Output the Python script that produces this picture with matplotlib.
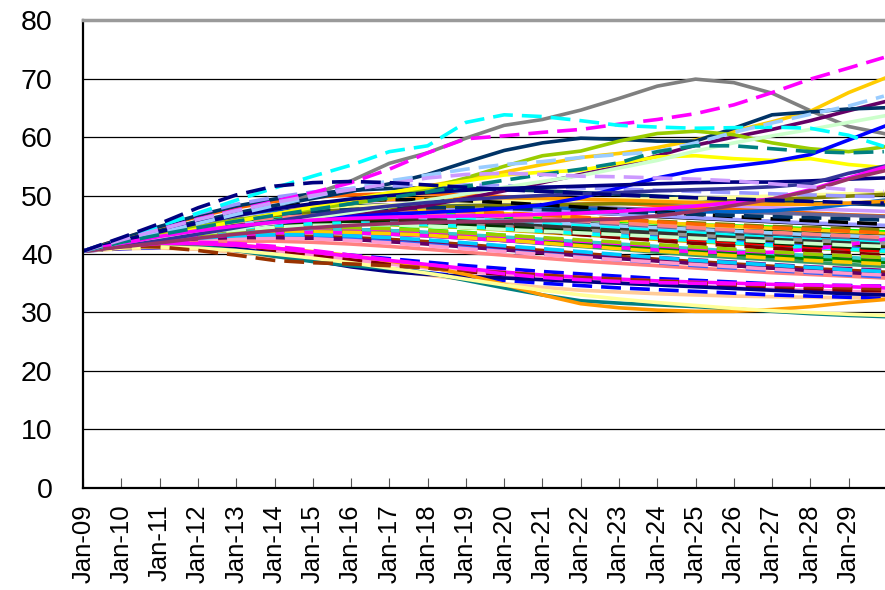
import matplotlib
matplotlib.use("Agg")
import matplotlib.pyplot as plt

plt.rcParams['font.family'] = ['Liberation Sans', 'DejaVu Sans']

# yearly samples, Jan-09 .. Jan-29 plus the last month (Dec-29)
YEARS = list(range(2009, 2030)) + [2029.92]
TICK_YEARS = list(range(2009, 2030))
TICK_LABELS = ["Jan-09", "Jan-10", "Jan-11", "Jan-12", "Jan-13", "Jan-14", "Jan-15",
               "Jan-16", "Jan-17", "Jan-18", "Jan-19", "Jan-20", "Jan-21", "Jan-22",
               "Jan-23", "Jan-24", "Jan-25", "Jan-26", "Jan-27", "Jan-28", "Jan-29"]

# main bundle, solid lines
bulk_solid_colors = ["#FF0000", "#00FF00", "#0000FF", "#000000", "#800000", "#008000",
                     "#800080", "#808000", "#00CCFF", "#CC99FF", "#FF6600", "#FF9900",
                     "#333300", "#339966", "#3366FF", "#33CCCC", "#99CC00", "#FFCC00",
                     "#666699", "#969696", "#003366", "#003300", "#993300", "#660066",
                     "#0066CC", "#333333", "#FF8080", "#00FFFF", "#9999FF", "#FF99CC",
                     "#FFCC99", "#99CCFF", "#FF00FF", "#FFFF99", "#808000", "#FF9900"]
bulk_solid = [
    [40.5, 41.8, 43.0, 44.0, 44.8, 45.3, 45.6, 45.8, 45.7, 45.5, 45.2, 44.8, 44.5, 44.1, 43.8, 43.5, 43.2, 43.0, 42.8, 42.5, 42.3, 42.1],
    [40.5, 42.0, 43.4, 44.6, 45.5, 46.2, 46.7, 47.0, 47.1, 47.0, 46.8, 46.5, 46.3, 46.0, 45.6, 45.3, 45.0, 44.8, 44.6, 44.3, 44.0, 43.8],
    [40.5, 41.5, 42.4, 43.2, 43.8, 44.2, 44.3, 44.2, 44.0, 43.6, 43.2, 42.8, 42.3, 41.9, 41.5, 41.0, 40.6, 40.2, 39.8, 39.4, 39.0, 38.7],
    [40.5, 42.2, 43.8, 45.2, 46.3, 47.2, 47.8, 48.2, 48.4, 48.3, 48.1, 47.8, 47.5, 47.1, 46.8, 46.4, 46.1, 45.8, 45.5, 45.2, 44.9, 44.7],
    [40.5, 41.3, 42.0, 42.5, 42.8, 42.9, 42.8, 42.6, 42.3, 41.9, 41.4, 40.9, 40.4, 39.9, 39.4, 38.9, 38.4, 38.0, 37.6, 37.2, 36.8, 36.5],
    [40.5, 41.4, 42.2, 42.9, 43.3, 43.6, 43.7, 43.6, 43.4, 43.1, 42.7, 42.3, 41.9, 41.4, 41.0, 40.6, 40.2, 39.8, 39.5, 39.2, 38.9, 38.6],
    [40.5, 41.2, 41.8, 42.3, 42.6, 42.7, 42.7, 42.5, 42.2, 41.8, 41.3, 40.8, 40.3, 39.8, 39.4, 38.9, 38.5, 38.1, 37.7, 37.3, 37.0, 36.7],
    [40.5, 41.9, 43.2, 44.2, 45.0, 45.6, 46.0, 46.2, 46.3, 46.1, 45.9, 45.6, 45.2, 44.9, 44.5, 44.2, 43.9, 43.6, 43.3, 43.0, 42.7, 42.5],
    [40.5, 42.0, 43.5, 44.8, 45.8, 46.5, 46.9, 47.1, 47.0, 46.8, 46.4, 45.9, 45.5, 45.0, 44.6, 44.2, 43.8, 43.5, 43.2, 42.9, 42.6, 42.3],
    [40.5, 42.3, 44.0, 45.5, 46.7, 47.7, 48.4, 48.9, 49.2, 49.4, 49.4, 49.3, 49.1, 48.9, 48.7, 48.5, 48.3, 48.1, 47.9, 47.7, 47.5, 47.3],
    [40.5, 42.6, 44.6, 46.4, 47.9, 49.0, 49.7, 50.1, 50.3, 50.3, 50.1, 49.8, 49.5, 49.1, 48.7, 48.3, 47.9, 47.6, 47.3, 47.0, 46.7, 46.5],
    [40.5, 41.6, 42.7, 43.6, 44.3, 44.8, 45.1, 45.2, 45.1, 44.9, 44.5, 44.1, 43.7, 43.3, 42.9, 42.5, 42.1, 41.8, 41.5, 41.2, 40.9, 40.6],
    [40.5, 41.7, 42.8, 43.8, 44.6, 45.2, 45.6, 45.8, 45.8, 45.6, 45.3, 45.0, 44.6, 44.2, 43.8, 43.4, 43.0, 42.6, 42.2, 41.9, 41.6, 41.3],
    [40.5, 41.5, 42.4, 43.1, 43.6, 43.9, 44.0, 43.9, 43.6, 43.2, 42.8, 42.3, 41.8, 41.3, 40.8, 40.3, 39.8, 39.4, 39.0, 38.6, 38.2, 37.9],
    [40.5, 41.8, 43.0, 44.0, 44.7, 45.2, 45.5, 45.6, 45.5, 45.2, 44.9, 44.5, 44.1, 43.7, 43.3, 42.9, 42.5, 42.1, 41.7, 41.3, 41.0, 40.7],
    [40.5, 41.4, 42.3, 43.0, 43.6, 44.0, 44.2, 44.2, 44.0, 43.7, 43.3, 42.9, 42.5, 42.1, 41.7, 41.3, 40.9, 40.5, 40.1, 39.7, 39.4, 39.1],
    [40.5, 41.6, 42.6, 43.5, 44.2, 44.7, 45.0, 45.1, 45.0, 44.8, 44.5, 44.2, 43.8, 43.4, 43.0, 42.6, 42.2, 41.8, 41.4, 41.0, 40.7, 40.4],
    [40.5, 42.1, 43.6, 44.9, 45.9, 46.6, 47.1, 47.4, 47.5, 47.4, 47.2, 46.9, 46.6, 46.2, 45.8, 45.4, 45.0, 44.7, 44.4, 44.1, 43.8, 43.5],
    [40.5, 42.0, 43.5, 44.8, 45.9, 46.8, 47.5, 48.0, 48.3, 48.5, 48.5, 48.4, 48.2, 48.0, 47.8, 47.6, 47.4, 47.2, 47.0, 46.8, 46.6, 46.4],
    [40.5, 41.6, 42.7, 43.6, 44.3, 44.8, 45.1, 45.3, 45.3, 45.2, 45.0, 44.7, 44.4, 44.1, 43.8, 43.5, 43.2, 42.9, 42.6, 42.3, 42.0, 41.8],
    [40.5, 42.6, 44.7, 46.6, 48.2, 49.4, 50.3, 50.9, 51.2, 51.3, 51.2, 51.0, 50.8, 50.5, 50.2, 49.9, 49.6, 49.3, 49.0, 48.8, 48.6, 48.4],
    [40.5, 41.9, 43.2, 44.3, 45.2, 45.8, 46.2, 46.4, 46.4, 46.3, 46.1, 45.8, 45.5, 45.2, 44.9, 44.6, 44.3, 44.0, 43.8, 43.5, 43.2, 43.0],
    [40.5, 41.3, 42.0, 42.5, 42.8, 43.0, 43.0, 42.8, 42.5, 42.1, 41.6, 41.1, 40.6, 40.1, 39.6, 39.1, 38.7, 38.3, 37.9, 37.5, 37.2, 36.9],
    [40.5, 41.2, 41.9, 42.4, 42.7, 42.8, 42.7, 42.5, 42.1, 41.7, 41.2, 40.7, 40.2, 39.7, 39.2, 38.8, 38.4, 38.0, 37.6, 37.2, 36.8, 36.5],
    [40.5, 42.2, 43.8, 45.2, 46.3, 47.1, 47.7, 48.1, 48.3, 48.4, 48.3, 48.1, 47.9, 47.7, 47.5, 47.3, 47.2, 47.2, 47.4, 47.8, 48.5, 49.2],
    [40.5, 41.7, 42.9, 43.9, 44.7, 45.3, 45.7, 45.9, 45.9, 45.8, 45.6, 45.3, 45.0, 44.7, 44.4, 44.1, 43.8, 43.5, 43.3, 43.1, 42.9, 42.7],
    [40.5, 41.1, 41.6, 42.0, 42.2, 42.2, 42.0, 41.7, 41.3, 40.8, 40.3, 39.8, 39.3, 38.8, 38.4, 38.0, 37.6, 37.2, 36.8, 36.5, 36.2, 35.9],
    [40.5, 41.7, 42.8, 43.7, 44.4, 44.9, 45.2, 45.3, 45.2, 45.0, 44.7, 44.3, 43.9, 43.5, 43.1, 42.7, 42.3, 41.9, 41.5, 41.1, 40.8, 40.5],
    [40.5, 42.1, 43.7, 45.0, 46.1, 46.9, 47.5, 47.8, 48.0, 48.0, 47.9, 47.7, 47.4, 47.1, 46.8, 46.5, 46.2, 45.9, 45.6, 45.3, 45.1, 44.9],
    [40.5, 41.0, 41.3, 41.3, 41.0, 40.4, 39.7, 39.0, 38.3, 37.6, 37.0, 36.4, 35.9, 35.5, 35.1, 34.8, 34.5, 34.2, 34.0, 33.8, 33.6, 33.5],
    [40.5, 40.9, 41.0, 40.8, 40.3, 39.6, 38.8, 38.0, 37.2, 36.4, 35.6, 34.9, 34.3, 33.8, 33.5, 33.2, 33.0, 32.8, 32.7, 32.6, 32.5, 32.5],
    [40.5, 41.9, 43.2, 44.3, 45.1, 45.7, 46.1, 46.3, 46.3, 46.2, 46.0, 45.7, 45.4, 45.1, 44.8, 44.5, 44.2, 43.9, 43.6, 43.3, 43.1, 42.9],
    [40.5, 41.4, 42.2, 42.8, 43.3, 43.6, 43.7, 43.6, 43.4, 43.1, 42.7, 42.3, 41.9, 41.5, 41.1, 40.7, 40.4, 40.2, 40.3, 40.8, 41.6, 42.5],
    [40.5, 42.0, 43.5, 44.8, 45.9, 46.8, 47.5, 48.0, 48.4, 48.7, 48.9, 49.0, 49.1, 49.2, 49.3, 49.4, 49.5, 49.7, 49.9, 50.1, 50.3, 50.5],
    [40.5, 42.0, 43.5, 44.8, 45.8, 46.6, 47.2, 47.6, 47.9, 48.1, 48.2, 48.3, 48.4, 48.5, 48.6, 48.7, 48.8, 49.0, 49.3, 49.6, 49.9, 50.2],
    [40.5, 42.3, 44.0, 45.5, 46.8, 47.8, 48.5, 49.0, 49.3, 49.5, 49.6, 49.6, 49.5, 49.4, 49.2, 49.0, 48.8, 48.6, 48.5, 48.5, 48.7, 49.0],
]

# main bundle, dashed lines
bulk_dashed_colors = ["#FF0000", "#00FF00", "#0000FF", "#000000", "#800000", "#008000",
                      "#800080", "#808000", "#FF00FF", "#FF6600", "#00FFFF", "#9999FF",
                      "#003300", "#FFCC00", "#666699", "#3366FF", "#99CC00", "#FF99CC",
                      "#003366", "#333333", "#00CCFF", "#CCFFCC", "#FF8080", "#0000FF",
                      "#800000"]
bulk_dashed = [
    [40.5, 41.9, 43.2, 44.3, 45.1, 45.7, 46.0, 46.1, 46.0, 45.7, 45.3, 44.9, 44.4, 43.9, 43.4, 42.9, 42.4, 42.0, 41.6, 41.2, 40.8, 40.5],
    [40.5, 41.6, 42.6, 43.4, 44.0, 44.4, 44.6, 44.6, 44.4, 44.1, 43.7, 43.2, 42.7, 42.2, 41.7, 41.2, 40.8, 40.4, 40.0, 39.6, 39.2, 38.9],
    [40.5, 41.2, 41.6, 41.7, 41.5, 41.0, 40.4, 39.8, 39.2, 38.6, 38.0, 37.5, 37.0, 36.6, 36.2, 35.8, 35.5, 35.2, 34.9, 34.7, 34.6, 34.5],
    [40.5, 42.3, 44.1, 45.7, 47.0, 48.0, 48.7, 49.1, 49.3, 49.3, 49.1, 48.8, 48.4, 48.0, 47.6, 47.2, 46.8, 46.4, 46.0, 45.7, 45.4, 45.1],
    [40.5, 41.8, 43.0, 44.0, 44.8, 45.3, 45.6, 45.7, 45.6, 45.3, 44.9, 44.4, 43.9, 43.3, 42.8, 42.3, 41.8, 41.4, 41.0, 40.6, 40.2, 39.8],
    [40.5, 41.5, 42.4, 43.1, 43.6, 43.9, 44.0, 43.9, 43.7, 43.3, 42.9, 42.5, 42.1, 41.7, 41.3, 40.9, 40.5, 40.1, 39.8, 39.5, 39.2, 38.9],
    [40.5, 41.3, 42.0, 42.6, 43.0, 43.2, 43.2, 43.0, 42.7, 42.3, 41.8, 41.3, 40.8, 40.3, 39.8, 39.4, 39.0, 38.6, 38.2, 37.8, 37.5, 37.2],
    [40.5, 42.0, 43.4, 44.6, 45.6, 46.3, 46.8, 47.1, 47.2, 47.2, 47.0, 46.8, 46.5, 46.2, 45.9, 45.6, 45.3, 45.0, 44.7, 44.5, 44.3, 44.1],
    [40.5, 41.6, 42.6, 43.4, 44.0, 44.3, 44.4, 44.3, 44.1, 43.8, 43.4, 43.0, 42.6, 42.2, 41.8, 41.4, 41.0, 40.6, 40.3, 40.0, 39.7, 39.4],
    [40.5, 42.1, 43.6, 44.9, 45.9, 46.6, 47.1, 47.4, 47.5, 47.5, 47.3, 47.0, 46.7, 46.3, 45.9, 45.5, 45.1, 44.8, 44.5, 44.2, 43.9, 43.6],
    [40.5, 41.9, 43.2, 44.3, 45.2, 45.8, 46.2, 46.4, 46.4, 46.3, 46.0, 45.6, 45.2, 44.8, 44.4, 44.0, 43.6, 43.2, 42.8, 42.5, 42.2, 41.9],
    [40.5, 42.7, 44.9, 46.9, 48.5, 49.7, 50.6, 51.2, 51.6, 51.8, 51.8, 51.7, 51.5, 51.3, 51.1, 50.9, 50.7, 50.5, 50.3, 50.1, 49.9, 49.8],
    [40.5, 41.7, 42.8, 43.7, 44.4, 44.9, 45.2, 45.4, 45.4, 45.3, 45.0, 44.7, 44.3, 43.9, 43.5, 43.1, 42.7, 42.3, 41.9, 41.5, 41.2, 40.9],
    [40.5, 41.4, 42.2, 42.9, 43.4, 43.7, 43.8, 43.7, 43.5, 43.2, 42.8, 42.4, 41.9, 41.4, 40.9, 40.5, 40.1, 39.7, 39.3, 38.9, 38.6, 38.3],
    [40.5, 42.1, 43.6, 44.9, 45.9, 46.6, 47.0, 47.2, 47.2, 47.0, 46.7, 46.3, 45.9, 45.5, 45.1, 44.7, 44.3, 43.9, 43.5, 43.1, 42.8, 42.5],
    [40.5, 41.3, 42.0, 42.5, 42.8, 42.9, 42.8, 42.5, 42.1, 41.6, 41.1, 40.5, 40.0, 39.5, 39.0, 38.5, 38.0, 37.6, 37.2, 36.8, 36.4, 36.1],
    [40.5, 41.5, 42.5, 43.3, 43.9, 44.3, 44.5, 44.5, 44.3, 44.0, 43.6, 43.2, 42.8, 42.4, 42.0, 41.6, 41.2, 40.8, 40.4, 40.0, 39.7, 39.4],
    [40.5, 41.2, 41.8, 42.3, 42.6, 42.7, 42.6, 42.3, 41.9, 41.4, 40.9, 40.4, 39.9, 39.4, 39.0, 38.6, 38.2, 37.8, 37.4, 37.0, 36.7, 36.4],
    [40.5, 42.0, 43.5, 44.8, 45.8, 46.6, 47.2, 47.6, 47.8, 47.9, 47.9, 47.8, 47.6, 47.4, 47.2, 47.0, 46.8, 46.6, 46.4, 46.2, 46.0, 45.8],
    [40.5, 41.8, 43.0, 44.1, 44.9, 45.5, 45.9, 46.1, 46.1, 45.9, 45.6, 45.2, 44.8, 44.4, 44.0, 43.6, 43.2, 42.8, 42.5, 42.2, 41.9, 41.6],
    [40.5, 41.3, 42.1, 42.7, 43.1, 43.3, 43.3, 43.1, 42.8, 42.4, 41.9, 41.4, 40.9, 40.4, 39.9, 39.4, 38.9, 38.5, 38.1, 37.7, 37.3, 37.0],
    [40.5, 41.6, 42.6, 43.5, 44.1, 44.6, 44.9, 45.0, 45.0, 44.8, 44.5, 44.2, 43.9, 43.6, 43.3, 43.0, 42.7, 42.4, 42.1, 41.8, 41.5, 41.3],
    [40.5, 42.0, 43.4, 44.6, 45.5, 46.2, 46.6, 46.9, 47.0, 46.9, 46.7, 46.4, 46.1, 45.7, 45.3, 44.9, 44.5, 44.1, 43.7, 43.4, 43.1, 42.8],
    [40.5, 40.9, 41.1, 41.0, 40.6, 40.0, 39.2, 38.4, 37.6, 36.8, 36.1, 35.5, 35.0, 34.6, 34.2, 33.9, 33.6, 33.3, 33.0, 32.8, 32.6, 32.4],
    [40.5, 41.0, 41.3, 41.3, 41.0, 40.4, 39.7, 39.0, 38.3, 37.6, 37.0, 36.5, 36.0, 35.6, 35.2, 34.9, 34.6, 34.3, 34.1, 33.9, 33.8, 33.7],
]

# low paths
low_solid_colors = ["#000080", "#008080", "#FF9900", "#FF00FF", "#FFFF99"]
low_solid = [
    [40.5, 41.3, 41.7, 41.6, 41.0, 40.0, 38.9, 37.8, 37.0, 36.5, 36.2, 35.9, 35.6, 35.3, 35.0, 34.7, 34.4, 34.1, 33.8, 33.5, 33.2, 33.0],
    [40.5, 41.2, 41.5, 41.3, 40.6, 39.6, 38.7, 38.0, 37.5, 36.8, 35.5, 34.2, 33.0, 32.0, 31.6, 31.3, 31.0, 30.6, 30.2, 29.8, 29.5, 29.3],
    [40.5, 41.4, 41.8, 41.8, 41.5, 41.0, 40.4, 39.7, 38.8, 37.8, 36.5, 34.8, 33.0, 31.5, 30.8, 30.4, 30.2, 30.2, 30.5, 31.0, 31.7, 32.2],
    [40.5, 41.4, 41.8, 41.8, 41.5, 41.0, 40.3, 39.6, 38.9, 38.2, 37.5, 36.9, 36.4, 36.0, 35.7, 35.4, 35.2, 35.0, 34.8, 34.6, 34.4, 34.2],
    [40.5, 41.0, 41.2, 41.0, 40.6, 40.0, 39.3, 38.5, 37.6, 36.7, 35.7, 34.7, 33.8, 33.0, 32.3, 31.7, 31.2, 30.7, 30.3, 30.0, 29.7, 29.5],
]
low_dashed_colors = ["#993300", "#FF00FF"]
low_dashed = [
    [40.5, 41.3, 41.2, 40.6, 39.8, 38.9, 38.5, 38.3, 38.0, 37.6, 37.2, 36.8, 36.4, 36.0, 35.7, 35.4, 35.1, 34.8, 34.6, 34.4, 34.2, 34.0],
    [40.5, 41.3, 41.8, 42.0, 41.8, 41.3, 40.6, 39.8, 39.0, 38.2, 37.4, 36.6, 36.0, 35.6, 35.3, 35.1, 35.0, 34.9, 34.8, 34.7, 34.6, 34.5],
]

# high paths
high_solid_colors = ["#808080", "#FFCC00", "#660066", "#003366", "#99CC00", "#FFFF00",
                     "#0000FF", "#CCFFCC", "#000080", "#333399", "#FF00FF", "#993366"]
high_solid = [
    [40.5, 42.0, 43.6, 45.1, 46.5, 48.0, 50.2, 52.5, 55.5, 57.3, 59.8, 62.0, 63.0, 64.6, 66.6, 68.7, 69.9, 69.3, 67.5, 64.5, 61.8, 60.6],
    [40.5, 41.8, 43.0, 44.4, 45.6, 46.8, 48.0, 49.2, 50.4, 51.6, 52.8, 54.0, 55.3, 56.5, 57.2, 58.2, 59.5, 61.0, 62.6, 64.4, 67.6, 70.0],
    [40.5, 41.8, 42.9, 43.8, 44.6, 45.3, 46.0, 46.6, 47.3, 48.3, 49.5, 50.8, 52.2, 53.6, 55.0, 56.8, 58.6, 60.0, 61.3, 62.8, 64.5, 66.0],
    [40.5, 42.3, 44.0, 45.6, 47.0, 48.3, 49.5, 50.7, 52.0, 53.6, 55.7, 57.7, 59.0, 59.8, 59.6, 59.3, 59.3, 61.5, 63.8, 64.3, 64.8, 65.0],
    [40.5, 42.0, 43.4, 44.7, 45.8, 46.8, 47.7, 48.6, 49.6, 51.2, 53.0, 55.0, 56.8, 57.6, 59.3, 60.6, 61.0, 60.4, 59.0, 58.0, 57.5, 58.3],
    [40.5, 41.7, 43.0, 44.3, 45.6, 46.8, 48.0, 49.3, 50.5, 51.5, 52.5, 53.5, 54.0, 54.3, 55.5, 56.6, 56.8, 56.3, 56.0, 56.3, 55.3, 54.8],
    [40.5, 41.7, 42.8, 43.8, 44.6, 45.3, 45.9, 46.4, 46.8, 47.1, 47.4, 47.8, 48.4, 49.6, 51.3, 53.0, 54.3, 55.0, 55.8, 57.0, 59.5, 61.8],
    [40.5, 41.6, 42.6, 43.5, 44.4, 45.3, 46.2, 47.1, 48.1, 49.2, 50.3, 51.4, 52.4, 53.4, 54.7, 56.0, 57.6, 59.0, 60.2, 61.3, 62.5, 63.6],
    [40.5, 42.2, 43.8, 45.3, 46.6, 47.7, 48.6, 49.4, 50.0, 50.5, 50.9, 51.2, 51.4, 51.6, 51.8, 52.0, 52.2, 52.3, 52.3, 52.5, 52.8, 53.0],
    [40.5, 41.3, 42.3, 43.4, 44.5, 45.6, 46.6, 47.5, 48.2, 48.8, 49.3, 49.7, 50.0, 50.3, 50.5, 50.8, 51.0, 51.2, 51.5, 52.0, 53.8, 55.0],
    [40.5, 41.8, 43.0, 44.0, 44.8, 45.4, 45.8, 46.1, 46.3, 46.4, 46.5, 46.6, 46.8, 47.0, 47.3, 47.7, 48.2, 48.8, 49.4, 51.0, 53.0, 54.8],
    [40.5, 41.2, 41.9, 42.7, 43.4, 44.0, 44.5, 44.9, 45.2, 45.4, 45.5, 45.6, 45.7, 45.8, 46.0, 46.5, 47.3, 48.3, 49.4, 50.8, 52.8, 54.2],
]
high_dashed_colors = ["#FF00FF", "#00FFFF", "#99CCFF", "#008080", "#CC99FF", "#000080"]
high_dashed = [
    [40.5, 42.4, 44.2, 46.0, 47.5, 49.0, 50.5, 52.2, 54.5, 57.3, 59.7, 60.2, 60.8, 61.3, 62.2, 63.0, 64.0, 65.5, 67.6, 69.9, 71.8, 73.6],
    [40.5, 42.6, 44.8, 47.0, 49.2, 51.3, 53.3, 55.2, 57.5, 58.5, 62.5, 63.8, 63.5, 62.8, 62.0, 61.7, 61.5, 61.6, 61.7, 61.5, 60.3, 58.4],
    [40.5, 42.0, 43.6, 45.2, 46.8, 48.3, 49.8, 51.2, 52.5, 53.5, 54.5, 55.3, 55.8, 56.5, 57.0, 57.5, 59.0, 60.8, 62.4, 63.9, 65.3, 67.0],
    [40.5, 42.0, 43.3, 44.5, 45.6, 46.6, 47.6, 48.6, 49.6, 50.6, 51.6, 52.6, 53.6, 54.5, 55.6, 57.5, 58.5, 58.5, 58.0, 57.5, 57.3, 57.5],
    [40.5, 42.4, 44.2, 45.9, 47.4, 48.8, 50.0, 51.0, 52.0, 53.0, 53.6, 53.8, 53.6, 53.3, 53.2, 53.0, 52.8, 52.5, 52.0, 51.5, 51.0, 50.7],
    [40.5, 42.8, 45.2, 47.9, 50.1, 51.6, 52.2, 52.4, 52.2, 51.8, 51.4, 51.0, 50.7, 50.4, 50.1, 49.8, 49.6, 49.4, 49.2, 49.0, 48.8, 48.7],
]

LW = 2.6
DASH = (5.5, 2.5)

fig = plt.figure(figsize=(8.85, 5.9), dpi=100)
ax = fig.add_axes([0.094, 0.173, 0.906, 0.793])

def draw(series, colors, dashed):
    for vals, c in zip(series, colors):
        if dashed:
            ax.plot(YEARS, vals, color=c, lw=LW, dashes=DASH, dash_capstyle='butt')
        else:
            ax.plot(YEARS, vals, color=c, lw=LW, solid_joinstyle='round')

draw(bulk_solid, bulk_solid_colors, False)
draw(bulk_dashed, bulk_dashed_colors, True)
draw(low_solid, low_solid_colors, False)
draw(low_dashed, low_dashed_colors, True)
draw(high_solid, high_solid_colors, False)
draw(high_dashed, high_dashed_colors, True)

ax.set_xlim(2009, 2029.95)
ax.set_ylim(0, 80)
ax.set_yticks(range(0, 81, 10))
ax.set_xticks(TICK_YEARS)
ax.set_xticklabels(TICK_LABELS, rotation=90)

ax.yaxis.grid(True, color='#000000', lw=0.9)
ax.set_axisbelow(True)

ax.spines['right'].set_visible(False)
ax.spines['top'].set_color('#9a9a9a')
ax.spines['top'].set_linewidth(2.5)
ax.spines['left'].set_linewidth(1.6)
ax.spines['bottom'].set_linewidth(1.6)

ax.tick_params(axis='x', direction='in', length=7, width=0.8, color='#555555',
               labelsize=18.5, pad=12)
ax.tick_params(axis='y', direction='in', length=0, labelsize=20.5, pad=22)

fig.savefig("out.png", dpi=100)
